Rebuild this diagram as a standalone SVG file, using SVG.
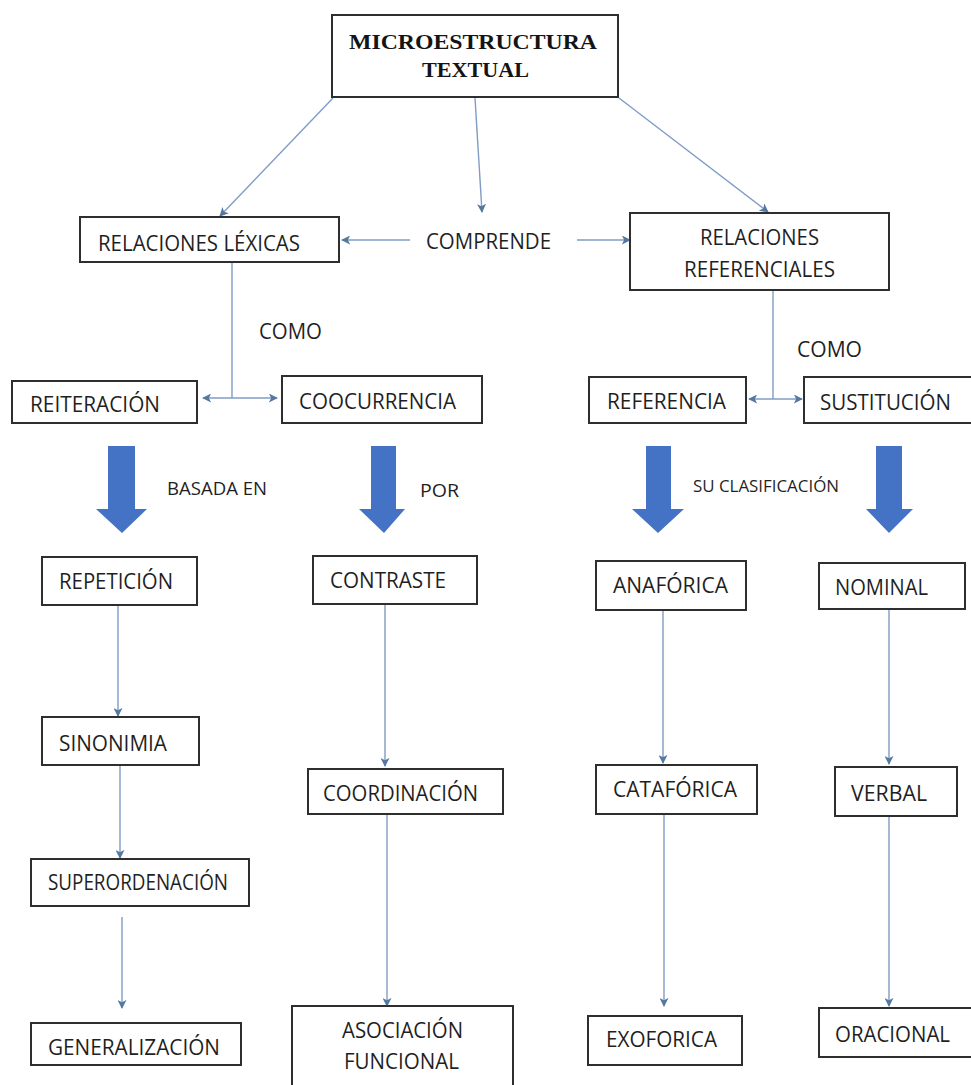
<svg xmlns="http://www.w3.org/2000/svg" width="971" height="1085" viewBox="0 0 971 1085">
  <style>
    .box { fill: #ffffff; stroke: #2e2e2e; stroke-width: 2; }
    .lbl { font-family: "Open Sans", "Liberation Sans", sans-serif; font-size: 22px; fill: #1f1f1f; }
    .sm { font-size: 19px; }
    .md { font-size: 21px; }
    .xs { font-size: 16px; }
    .title { font-family: "Liberation Serif", serif; font-weight: bold; font-size: 21px; fill: #141414; }
    .link { fill: none; stroke: #7f9cc4; stroke-width: 1.4; }
    .big { fill: #4472c4; }
  </style>
  <defs>
    <marker id="tip" viewBox="0 0 10 10" refX="9" refY="5" markerWidth="9" markerHeight="9" markerUnits="userSpaceOnUse" orient="auto-start-reverse">
      <path d="M0,0 L10,5 L0,10 L2.5,5 Z" fill="#55789f"/>
    </marker>
  </defs>

  <rect width="971" height="1085" fill="#ffffff"/>

  <!-- thin connectors -->
  <g id="connectors">
    <line class="link" x1="333" y1="98" x2="220" y2="216" marker-end="url(#tip)"/>
    <line class="link" x1="475" y1="98" x2="482" y2="212" marker-end="url(#tip)"/>
    <line class="link" x1="619" y1="98" x2="768" y2="212" marker-end="url(#tip)"/>
    <line class="link" x1="410" y1="240" x2="342" y2="240" marker-end="url(#tip)"/>
    <line class="link" x1="577" y1="240" x2="630" y2="240" marker-end="url(#tip)"/>
    <line class="link" x1="232" y1="262" x2="232" y2="398"/>
    <line class="link" x1="203" y1="398" x2="277" y2="398" marker-start="url(#tip)" marker-end="url(#tip)"/>
    <line class="link" x1="773" y1="278" x2="773" y2="399"/>
    <line class="link" x1="749" y1="399" x2="802" y2="399" marker-start="url(#tip)" marker-end="url(#tip)"/>
    <line class="link" x1="118" y1="605" x2="118" y2="716" marker-end="url(#tip)"/>
    <line class="link" x1="120" y1="765" x2="120" y2="858" marker-end="url(#tip)"/>
    <line class="link" x1="122" y1="917" x2="122" y2="1008" marker-end="url(#tip)"/>
    <line class="link" x1="385" y1="604" x2="385" y2="766" marker-end="url(#tip)"/>
    <line class="link" x1="387" y1="814" x2="387" y2="1006" marker-end="url(#tip)"/>
    <line class="link" x1="663" y1="610" x2="663" y2="763" marker-end="url(#tip)"/>
    <line class="link" x1="664" y1="814" x2="664" y2="1006" marker-end="url(#tip)"/>
    <line class="link" x1="889" y1="609" x2="889" y2="764" marker-end="url(#tip)"/>
    <line class="link" x1="889" y1="816" x2="889" y2="1006" marker-end="url(#tip)"/>
  </g>

  <!-- block arrows -->
  <g id="block-arrows">
    <path class="big" d="M108,446 H135 V509 H147 L122,533 L96,509 H108 Z"/>
    <path class="big" d="M371,446 H396 V509 H405 L384,533 L359,509 H371 Z"/>
    <path class="big" d="M646,446 H671 V509 H684 L658,533 L632,509 H646 Z"/>
    <path class="big" d="M876,446 H902 V509 H913 L889,533 L866,509 H876 Z"/>
  </g>

  <!-- connector labels -->
  <g id="labels">
    <text class="lbl" x="426" y="249" textLength="125" lengthAdjust="spacingAndGlyphs">COMPRENDE</text>
    <text class="lbl" x="259" y="339" textLength="63" lengthAdjust="spacingAndGlyphs">COMO</text>
    <text class="lbl" x="797" y="357" textLength="65" lengthAdjust="spacingAndGlyphs">COMO</text>
    <text class="lbl sm" x="167" y="495" textLength="100" lengthAdjust="spacingAndGlyphs">BASADA EN</text>
    <text class="lbl sm" x="420" y="497" textLength="39" lengthAdjust="spacingAndGlyphs">POR</text>
    <text class="lbl xs" x="693" y="492" textLength="146" lengthAdjust="spacingAndGlyphs">SU CLASIFICACIÓN</text>
  </g>

  <g id="n-micro">
    <rect class="box" x="332" y="15" width="286" height="82"/>
    <text class="title" x="349" y="49" textLength="248" lengthAdjust="spacingAndGlyphs">MICROESTRUCTURA</text>
    <text class="title" x="422" y="77" textLength="107" lengthAdjust="spacingAndGlyphs">TEXTUAL</text>
  </g>
  <g id="n-lexicas">
    <rect class="box" x="80" y="217" width="259" height="45"/>
    <text class="lbl" x="98" y="251" textLength="202" lengthAdjust="spacingAndGlyphs">RELACIONES LÉXICAS</text>
  </g>
  <g id="n-referenciales">
    <rect class="box" x="630" y="213" width="259" height="77"/>
    <text class="lbl" x="700" y="245" textLength="119" lengthAdjust="spacingAndGlyphs">RELACIONES</text>
    <text class="lbl" x="684" y="277" textLength="151" lengthAdjust="spacingAndGlyphs">REFERENCIALES</text>
  </g>
  <g id="n-reiteracion">
    <rect class="box" x="12" y="381" width="185" height="42"/>
    <text class="lbl" x="30" y="412" textLength="130" lengthAdjust="spacingAndGlyphs">REITERACIÓN</text>
  </g>
  <g id="n-coocurrencia">
    <rect class="box" x="282" y="376" width="200" height="47"/>
    <text class="lbl" x="299" y="409" textLength="157" lengthAdjust="spacingAndGlyphs">COOCURRENCIA</text>
  </g>
  <g id="n-referencia">
    <rect class="box" x="589" y="377" width="157" height="46"/>
    <text class="lbl" x="607" y="409" textLength="119" lengthAdjust="spacingAndGlyphs">REFERENCIA</text>
  </g>
  <g id="n-sustitucion">
    <rect class="box" x="804" y="377" width="175" height="46"/>
    <text class="lbl" x="820" y="410" textLength="131" lengthAdjust="spacingAndGlyphs">SUSTITUCIÓN</text>
  </g>
  <g id="n-repeticion">
    <rect class="box" x="42" y="557" width="155" height="48"/>
    <text class="lbl" x="59" y="589" textLength="114" lengthAdjust="spacingAndGlyphs">REPETICIÓN</text>
  </g>
  <g id="n-contraste">
    <rect class="box" x="313" y="556" width="164" height="48"/>
    <text class="lbl" x="330" y="588" textLength="116" lengthAdjust="spacingAndGlyphs">CONTRASTE</text>
  </g>
  <g id="n-anaforica">
    <rect class="box" x="596" y="561" width="150" height="49"/>
    <text class="lbl" x="613" y="593" textLength="115" lengthAdjust="spacingAndGlyphs">ANAFÓRICA</text>
  </g>
  <g id="n-nominal">
    <rect class="box" x="819" y="563" width="146" height="46"/>
    <text class="lbl" x="835" y="595" textLength="93" lengthAdjust="spacingAndGlyphs">NOMINAL</text>
  </g>
  <g id="n-sinonimia">
    <rect class="box" x="42" y="717" width="157" height="48"/>
    <text class="lbl" x="59" y="751" textLength="108" lengthAdjust="spacingAndGlyphs">SINONIMIA</text>
  </g>
  <g id="n-coordinacion">
    <rect class="box" x="308" y="769" width="195" height="45"/>
    <text class="lbl" x="323" y="801" textLength="155" lengthAdjust="spacingAndGlyphs">COORDINACIÓN</text>
  </g>
  <g id="n-cataforica">
    <rect class="box" x="596" y="765" width="161" height="49"/>
    <text class="lbl" x="613" y="797" textLength="124" lengthAdjust="spacingAndGlyphs">CATAFÓRICA</text>
  </g>
  <g id="n-verbal">
    <rect class="box" x="835" y="767" width="122" height="49"/>
    <text class="lbl" x="851" y="801" textLength="76" lengthAdjust="spacingAndGlyphs">VERBAL</text>
  </g>
  <g id="n-superordenacion">
    <rect class="box" x="31" y="859" width="218" height="47"/>
    <text class="lbl md" x="48" y="890" textLength="180" lengthAdjust="spacingAndGlyphs">SUPERORDENACIÓN</text>
  </g>
  <g id="n-generalizacion">
    <rect class="box" x="31" y="1023" width="210" height="42"/>
    <text class="lbl" x="48" y="1055" textLength="172" lengthAdjust="spacingAndGlyphs">GENERALIZACIÓN</text>
  </g>
  <g id="n-asociacion">
    <rect class="box" x="292" y="1006" width="221" height="95"/>
    <text class="lbl" x="342" y="1038" textLength="121" lengthAdjust="spacingAndGlyphs">ASOCIACIÓN</text>
    <text class="lbl" x="344" y="1069" textLength="115" lengthAdjust="spacingAndGlyphs">FUNCIONAL</text>
  </g>
  <g id="n-exoforica">
    <rect class="box" x="588" y="1016" width="154" height="49"/>
    <text class="lbl" x="606" y="1047" textLength="111" lengthAdjust="spacingAndGlyphs">EXOFORICA</text>
  </g>
  <g id="n-oracional">
    <rect class="box" x="819" y="1008" width="165" height="49"/>
    <text class="lbl" x="835" y="1042" textLength="115" lengthAdjust="spacingAndGlyphs">ORACIONAL</text>
  </g>
</svg>
